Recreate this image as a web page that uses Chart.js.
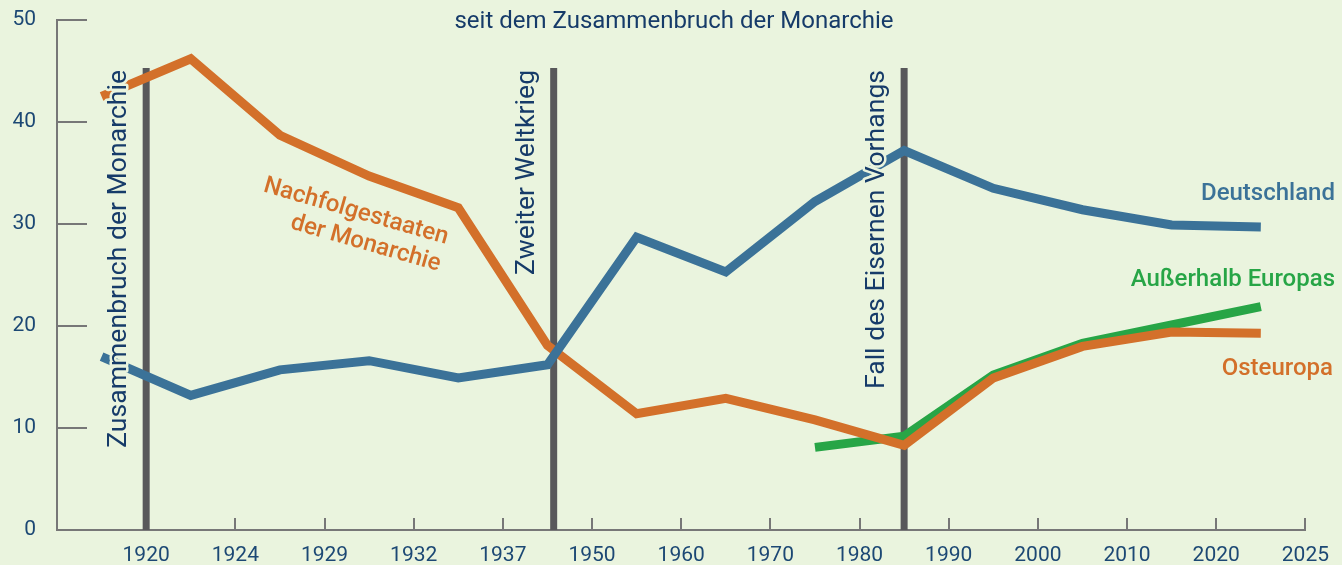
<!DOCTYPE html>
<html>
<head>
<meta charset="utf-8">
<script src="https://cdn.jsdelivr.net/npm/chart.js@4"></script>
<style>
  html, body { margin: 0; padding: 0; background: #EAF4DE; }
  canvas { display: block; }
</style>
</head>
<body>
<canvas id="migrationChart" width="1342" height="565"></canvas>
<script>
// x-axis tick labels (sit on the boundaries between periods)
const tickLabels = ['1920', '1924', '1929', '1932', '1937', '1950', '1960', '1970', '1980', '1990', '2000', '2010', '2020', '2025'];
const yTicks = [0, 10, 20, 30, 40, 50];

// series values, one per period
const nachfolgestaaten = [42.5, 46.2, 38.7, 34.7, 31.6, 18.1, 11.4, 12.9, 10.8, 8.3, 14.9, 18.0, 19.4, 19.3];
const deutschland = [17.0, 13.2, 15.7, 16.6, 14.9, 16.2, 28.7, 25.3, 32.2, 37.2, 33.5, 31.4, 29.9, 29.7];
const ausserhalb = [null, null, null, null, null, null, null, null, 8.1, 9.2, 15.2, 18.3, 20.1, 21.9];

// historical events (position on the x scale)
const eventLabels = ['Zusammenbruch der Monarchie', 'Zweiter Weltkrieg', 'Fall des Eisernen Vorhangs'];
const eventPos = [1, 5.57, 9.5];
const eventTop = 45.3;

const BG = '#EAF4DE';
const NAVY = '#163b69';
const TICK_TEXT = '#1c4874';
const AXIS = '#777777';
const BLUE = '#3B7298';
const ORANGE = '#D3702A';
const GREEN = '#27A546';

const toPoints = arr => arr.map((v, i) => ({ x: i + 0.5, y: v }));

const eventSets = eventPos.map(p => ({
    data: [{ x: p, y: 0 }, { x: p, y: eventTop }],
    borderColor: '#58585a',
    borderWidth: 7,
    pointRadius: 0,
    order: 10
}));

const overlay = {
    id: 'overlay',
    beforeDatasetsDraw(chart) {
        const { ctx, chartArea, scales: { x, y } } = chart;
        ctx.save();
        ctx.strokeStyle = AXIS;
        ctx.lineWidth = 2;
        // short stubs for y ticks
        yTicks.forEach(v => {
            const py = Math.round(y.getPixelForValue(v));
            ctx.beginPath();
            ctx.moveTo(chartArea.left, py);
            ctx.lineTo(chartArea.left + 30, py);
            ctx.stroke();
        });
        // inward tick marks on x
        tickLabels.forEach((_, i) => {
            const px = Math.round(x.getPixelForValue(i + 1));
            ctx.beginPath();
            ctx.moveTo(px, chartArea.bottom);
            ctx.lineTo(px, chartArea.bottom - 12);
            ctx.stroke();
        });
        ctx.restore();
    },
    afterDatasetsDraw(chart) {
        const { ctx, scales: { x, y } } = chart;
        ctx.save();

        // title
        ctx.font = '24px Roboto';
        ctx.fillStyle = NAVY;
        ctx.textAlign = 'center';
        ctx.textBaseline = 'alphabetic';
        ctx.fillText('seit dem Zusammenbruch der Monarchie', 674, 28);

        // event labels, rotated, with halo
        ctx.font = '26.6px Roboto';
        ctx.lineJoin = 'round';
        eventLabels.forEach((label, i) => {
            const px = x.getPixelForValue(eventPos[i]) - 20;
            const py = y.getPixelForValue(eventTop) + 2;
            ctx.save();
            ctx.translate(px, py);
            ctx.rotate(-Math.PI / 2);
            ctx.textAlign = 'right';
            ctx.strokeStyle = BG;
            ctx.lineWidth = 5;
            ctx.strokeText(label, 0, 0);
            ctx.fillStyle = NAVY;
            ctx.fillText(label, 0, 0);
            ctx.restore();
        });

        // series labels
        ctx.font = '500 24px Roboto';
        ctx.textAlign = 'right';
        ctx.fillStyle = BLUE;
        ctx.fillText('Deutschland', 1335, 200);
        ctx.fillStyle = GREEN;
        ctx.fillText('Außerhalb Europas', 1335, 286);
        ctx.fillStyle = ORANGE;
        ctx.fillText('Osteuropa', 1333, 375);

        ctx.save();
        ctx.translate(446, 244);
        ctx.rotate(16 * Math.PI / 180);
        ctx.fillText('Nachfolgestaaten', 0, 0);
        ctx.fillText('der Monarchie', 0, 28);
        ctx.restore();

        ctx.restore();
    }
};

const ctx = document.getElementById('migrationChart').getContext('2d');
const migrationChart = new Chart(ctx, {
    type: 'line',
    data: {
        datasets: [
            {
                label: 'Deutschland',
                data: toPoints(deutschland),
                borderColor: BLUE,
                borderWidth: 9,
                pointRadius: 0,
                order: 1
            },
            {
                label: 'Nachfolgestaaten der Monarchie / Osteuropa',
                data: toPoints(nachfolgestaaten),
                borderColor: ORANGE,
                borderWidth: 9,
                pointRadius: 0,
                order: 2
            },
            {
                label: 'Außerhalb Europas',
                data: toPoints(ausserhalb),
                borderColor: GREEN,
                borderWidth: 9,
                pointRadius: 0,
                order: 3
            },
            ...eventSets
        ]
    },
    options: {
        responsive: false,
        animation: false,
        layout: {
            padding: { left: 0, top: 20, right: 35, bottom: 0 }
        },
        plugins: {
            legend: { display: false },
            tooltip: { enabled: false }
        },
        scales: {
            x: {
                type: 'linear',
                min: 0,
                max: tickLabels.length,
                afterBuildTicks: scale => {
                    scale.ticks = tickLabels.map((_, i) => ({ value: i + 1 }));
                },
                afterFit: scale => { scale.height = 35; },
                grid: { display: true, drawOnChartArea: false, drawTicks: false },
                border: { display: true, color: AXIS, width: 2 },
                ticks: {
                    autoSkip: false,
                    maxRotation: 0,
                    padding: 13,
                    color: TICK_TEXT,
                    font: { family: 'Roboto', size: 21 },
                    callback: value => tickLabels[value - 1] || ''
                }
            },
            y: {
                min: 0,
                max: 50,
                afterFit: scale => {
                    scale.width = 57;
                    scale.paddingTop = 0;
                    scale.paddingBottom = 0;
                },
                grid: { display: true, drawOnChartArea: false, drawTicks: false },
                border: { display: true, color: AXIS, width: 2 },
                ticks: {
                    stepSize: 10,
                    padding: 21,
                    color: TICK_TEXT,
                    font: { family: 'Roboto', size: 21 }
                }
            }
        }
    },
    plugins: [overlay]
});
</script>
</body>
</html>
